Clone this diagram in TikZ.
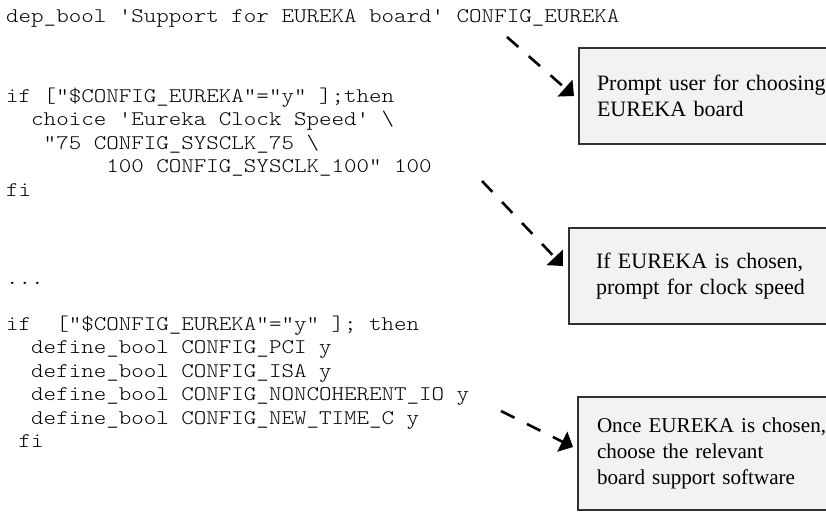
\documentclass[tikz,border=0pt]{standalone}
\usepackage{fontspec}
\setmainfont{Liberation Serif}
\setmonofont{lmmonolt10-regular.otf}[FakeStretch=1.146]
\usetikzlibrary{arrows.meta}

\definecolor{notefill}{RGB}{241,242,244}
\definecolor{noteline}{RGB}{50,50,50}

\tikzset{
  code/.style={anchor=base west, inner sep=0pt, font=\ttfamily\fontsize{20.8}{25}\selectfont},
  note/.style={draw=noteline, line width=2pt, fill=notefill, anchor=north west,
    text width=262pt, inner xsep=18pt, align=left, font=\fontsize{22}{26}\selectfont},
  hint/.style={line width=2.6pt, dash pattern=on 15pt off 14pt, -{Triangle[length=12pt,width=22pt]}}
}
% blank columns in front of a code line
\newcommand\ind[1]{\hspace*{#1\fontcharwd\font`x}}

\begin{document}
\begin{tikzpicture}[x=1pt, y=-1pt]
  \useasboundingbox (0,0) rectangle (826,512);

  % code
  \node[code] (dep) at (6,22) {dep\_bool 'Support for EUREKA board' CONFIG\_EUREKA};

  \node[code] (if1)    at (6,102) {if ["\$CONFIG\_EUREKA"="y" ];then};
  \node[code] (choice) at (6,125.5) {\ind{2}choice 'Eureka Clock Speed' \textbackslash};
  \node[code] (opt75)  at (6,149) {\ind{3}"75 CONFIG\_SYSCLK\_75 \textbackslash};
  \node[code] (opt100) at (6,172.5) {\ind{8}100 CONFIG\_SYSCLK\_100" 100};
  \node[code] (fi1)    at (6,196) {fi};

  \node[code] (dots) at (6,284) {...};

  \node[code] (if2)     at (6,330) {if\ind{1} ["\$CONFIG\_EUREKA"="y" ]; then};
  \node[code] (pci)     at (6,353.5) {\ind{2}define\_bool CONFIG\_PCI y};
  \node[code] (isa)     at (6,377) {\ind{2}define\_bool CONFIG\_ISA y};
  \node[code] (nonco)   at (6,400.5) {\ind{2}define\_bool CONFIG\_NONCOHERENT\_IO y};
  \node[code] (newtime) at (6,424) {\ind{2}define\_bool CONFIG\_NEW\_TIME\_C y};
  \node[code] (fi2)     at (6,447.5) {\ind{1}fi};

  % notes
  \node[note, minimum height=96pt] (board) at (578,47) {Prompt user for choosing\\EUREKA board};
  \node[note, minimum height=96pt, inner xsep=27pt] (clock) at (568,227) {If EUREKA is chosen,\\prompt for clock speed};
  \node[note, minimum height=113pt, inner xsep=19pt, font=\fontsize{21.1}{26}\selectfont] (bsp) at (577,396) {Once EUREKA is chosen,\\choose the relevant\\board support software};

  % arrows
  \coordinate (from1) at (507,37);
  \coordinate (from2) at (482,181);
  \coordinate (from3) at (501,411);
  \draw[hint] (from1) -- ([xshift=-4pt]board.west);
  \draw[hint] (from2) -- ([xshift=-5pt,yshift=10pt]clock.west);
  \draw[hint] (from3) -- ([xshift=-4pt,yshift=6.5pt]bsp.west);
\end{tikzpicture}
\end{document}
